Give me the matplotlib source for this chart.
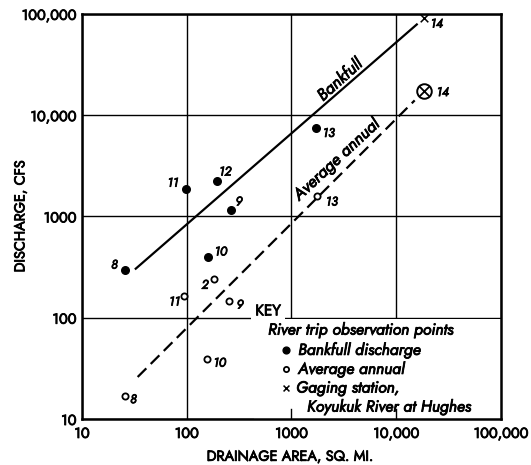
import matplotlib
matplotlib.use('Agg')
import matplotlib.pyplot as plt
import matplotlib.transforms as mtransforms
import matplotlib.patheffects as pe
from matplotlib.patches import Rectangle

FONT = 'Jost'
BOLDEN = [pe.withStroke(linewidth=0.6, foreground='black')]

# Bankfull discharge, river trip observation points
bank_area = [26, 98, 195, 264, 159, 1700]
bank_q = [295, 1860, 2240, 1160, 398, 7400]
bank_id = ['8', '11', '12', '9', '10', '13']

# Average annual discharge, river trip observation points
avg_area = [26, 95, 182, 253, 155, 1740]
avg_q = [17, 164, 240, 146, 39, 1590]
avg_id = ['8', '11', '2', '9', '10', '13']

# Gaging station, Koyukuk River at Hughes (station 14)
gage_area = [18300]
gage_bank_q = [91000]
gage_avg_q = [17500]
gage_id = '14'

# Fitted curves (end points)
bank_line_area = [32, 16000]
bank_line_q = [300, 80000]
avg_line_area = [34, 15000]
avg_line_q = [26, 14000]

ticks = [10, 100, 1000, 10000, 100000]
tick_labels = ['10', '100', '1000', '10,000', '100,000']

# label offsets in pixels (dx, dy) from each point
bank_off = [(-11, 5), (-13, 6), (8, 9), (8, 8), (13, 5), (13, -5)]
avg_off = [(8, -4), (-10, -6), (-9, -6), (11, -4), (13, -4), (15, -6)]

fig = plt.figure(figsize=(5.31, 4.65), dpi=100)
ax = fig.add_axes([0.1544, 0.0989, 0.7891, 0.8712])
ax.set_xscale('log')
ax.set_yscale('log')
ax.set_xlim(10, 100000)
ax.set_ylim(10, 100000)
ax.set_xticks(ticks)
ax.set_xticklabels(tick_labels)
ax.set_yticks(ticks)
ax.set_yticklabels(tick_labels)
ax.minorticks_off()
ax.tick_params(length=0, labelsize=10.5)
ax.tick_params(axis='x', pad=5)
ax.tick_params(axis='y', pad=4)
for lab in ax.get_xticklabels() + ax.get_yticklabels():
    lab.set_family(FONT)
    lab.set_path_effects(BOLDEN)
ax.set_axisbelow(True)
ax.grid(True, color='black', lw=1.0)
for sp in ax.spines.values():
    sp.set_linewidth(1.8)

ax.set_xlabel('DRAINAGE AREA, SQ. MI.', family=FONT, fontsize=10.4, va='center',
              path_effects=BOLDEN)
ax.set_ylabel('DISCHARGE, CFS', family=FONT, fontsize=10.4, va='center',
              path_effects=BOLDEN)
ax.xaxis.set_label_coords(0.496, -0.092)
ax.yaxis.set_label_coords(-0.148, 0.5)

# fitted lines
ax.plot(bank_line_area, bank_line_q, color='black', lw=1.6, solid_capstyle='butt', zorder=3)
ax.plot(avg_line_area, avg_line_q, color='black', lw=1.6, dashes=(5.5, 2.8), zorder=3)

ax.text(2900, 22300, 'Bankfull', family=FONT, style='italic', fontsize=12,
        rotation=42, ha='center', va='center', zorder=4, path_effects=BOLDEN)
ax.text(2700, 3640, 'Average annual', family=FONT, style='italic', fontsize=12,
        rotation=43, ha='center', va='center', zorder=4, path_effects=BOLDEN)

# observation points
ax.scatter(bank_area, bank_q, s=30, color='black', zorder=5)
ax.scatter(avg_area, avg_q, s=20, facecolor='white', edgecolor='black', lw=1.3, zorder=5)
ax.scatter(gage_area, gage_bank_q, s=30, marker='x', color='black', lw=1.1, zorder=5)
ax.scatter(gage_area, gage_avg_q, s=110, marker='o', facecolor='white', edgecolor='black', lw=1.4, zorder=5)
ax.scatter(gage_area, gage_avg_q, s=55, marker='x', color='black', lw=1.3, zorder=6)

lab_kw = dict(textcoords='offset pixels', ha='center', va='center', family=FONT,
              style='italic', fontsize=9, zorder=6, path_effects=BOLDEN)
for x, y, t, off in zip(bank_area, bank_q, bank_id, bank_off):
    ax.annotate(t, (x, y), xytext=off, **lab_kw)
for x, y, t, off in zip(avg_area, avg_q, avg_id, avg_off):
    ax.annotate(t, (x, y), xytext=off, **lab_kw)
ax.annotate(gage_id, (gage_area[0], gage_bank_q[0]), xytext=(13, -6), **lab_kw)
ax.annotate(gage_id, (gage_area[0], gage_avg_q[0]), xytext=(19, -2), **lab_kw)

# key box in the lower right corner
ax.add_patch(Rectangle((0.41, 0.0), 0.59, 0.247, transform=ax.transAxes,
                       facecolor='white', edgecolor='none', zorder=1))
stub = mtransforms.blended_transform_factory(ax.transData, ax.transAxes)
for xv in [1000, 10000]:
    ax.plot([xv, xv], [0, 0.025], color='black', lw=1.0, transform=stub, zorder=2)

ax.text(0.444, 0.267, 'KEY', transform=ax.transAxes, family=FONT, fontsize=11,
        ha='center', va='center', zorder=4, path_effects=BOLDEN,
        bbox=dict(facecolor='white', edgecolor='none', pad=3))
key_kw = dict(transform=ax.transAxes, family=FONT, style='italic', fontsize=11.5,
              va='center', zorder=4, path_effects=BOLDEN)
ax.text(0.444, 0.220, 'River trip observation points', **key_kw)
ax.text(0.516, 0.170, 'Bankfull discharge', **key_kw)
ax.text(0.516, 0.123, 'Average annual', **key_kw)
ax.text(0.511, 0.077, 'Gaging station,', **key_kw)
ax.text(0.537, 0.030, 'Koyukuk River at Hughes', **key_kw)
ax.scatter([0.487], [0.170], s=24, color='black', transform=ax.transAxes, zorder=4)
ax.scatter([0.487], [0.123], s=14, facecolor='white', edgecolor='black', lw=1.3,
           transform=ax.transAxes, zorder=4)
ax.scatter([0.487], [0.077], s=18, marker='x', color='black', lw=1.1,
           transform=ax.transAxes, zorder=4)

fig.savefig('out.png', dpi=100)
